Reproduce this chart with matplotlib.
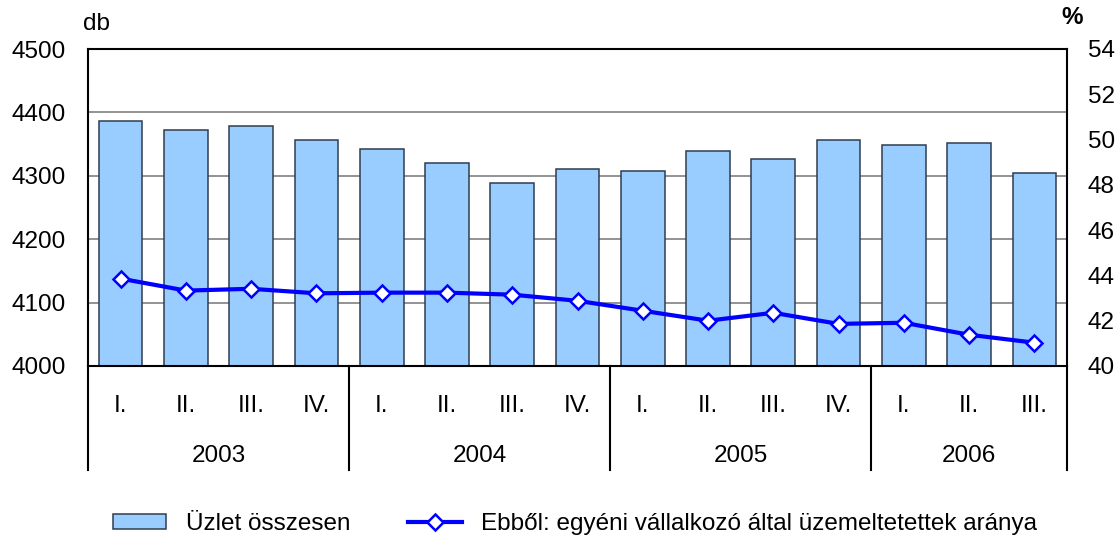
import matplotlib
matplotlib.use('Agg')
import matplotlib.pyplot as plt
import numpy as np

plt.rcParams['font.family'] = ['Liberation Sans', 'DejaVu Sans']

# Data
quarters = ['I.', 'II.', 'III.', 'IV.', 'I.', 'II.', 'III.', 'IV.',
            'I.', 'II.', 'III.', 'IV.', 'I.', 'II.', 'III.']
years = ['2003', '2004', '2005', '2006']
year_counts = [4, 4, 4, 3]
shops_total = [4386, 4373, 4379, 4357, 4342, 4320, 4289, 4310,
               4308, 4339, 4326, 4357, 4348, 4351, 4304]
sole_trader_pct = [43.86, 43.33, 43.41, 43.21, 43.24, 43.24, 43.15, 42.88,
                   42.44, 42.00, 42.35, 41.86, 41.91, 41.38, 41.03]

fs = 17.5
fig = plt.figure(figsize=(11.2, 5.38), dpi=100)
ax = fig.add_axes([88 / 1120, 1 - 366 / 538, (1067 - 88) / 1120, (366 - 49) / 538])

x = np.arange(len(quarters))
bars = ax.bar(x, shops_total, width=0.67, color='#99ccff', edgecolor='#2e3d50',
              linewidth=1.1, zorder=2, label='Üzlet összesen')
ax.set_xlim(-0.5, len(quarters) - 0.5)
ax.set_ylim(4000, 4500)
ax.set_yticks(range(4000, 4501, 100))
for g in range(4100, 4500, 100):
    ax.axhline(g, color='#808080', lw=1.2, zorder=0.5)

ax.set_xticks(x)
ax.set_xticklabels(quarters)
ax.tick_params(axis='x', length=0, pad=21, labelsize=fs)
ax.tick_params(axis='y', length=0, pad=16, labelsize=fs)
for s in ['left', 'top', 'right', 'bottom']:
    ax.spines[s].set_linewidth(1.5)
    ax.spines[s].set_color('black')

ax2 = ax.twinx()
line, = ax2.plot(x, sole_trader_pct, color='#0000ff', lw=3.0, marker='D', ms=8.5,
                 mfc='white', mec='#0000ff', mew=1.8, zorder=3,
                 label='Ebből: egyéni vállalkozó által üzemeltetettek aránya')
ax2.set_ylim(40, 54)
ax2.set_yticks(range(40, 55, 2))
ax2.tick_params(axis='y', length=0, pad=15, labelsize=fs)
for s in ax2.spines.values():
    s.set_visible(False)

# year groups and separators below the axis
trans = ax.get_xaxis_transform()
depth = 104 / 317
edges = [-0.5]
for c in year_counts:
    edges.append(edges[-1] + c)
for e in edges:
    ax.plot([e, e], [0, -depth], color='black', lw=1.5, transform=trans, clip_on=False)
for i, yr in enumerate(years):
    mid = (edges[i] + edges[i + 1]) / 2
    ax.text(mid, -90 / 317, yr, transform=trans, ha='center', va='center', fontsize=fs)

fig.text(96 / 1120, 1 - 24 / 538, 'db', ha='center', va='center', fontsize=fs)
fig.text(1072 / 1120, 1 - 17 / 538, '%', ha='center', va='center', fontsize=fs,
         fontweight='bold')

fig.legend([bars, line], ['Üzlet összesen', 'Ebből: egyéni vállalkozó által üzemeltetettek aránya'],
           loc='center', bbox_to_anchor=(575 / 1120, 1 - 524 / 538), ncol=2,
           frameon=False, fontsize=fs, handlelength=2.2, handletextpad=0.8,
           columnspacing=2.4, handleheight=0.6)

fig.savefig('out.png', dpi=100)
